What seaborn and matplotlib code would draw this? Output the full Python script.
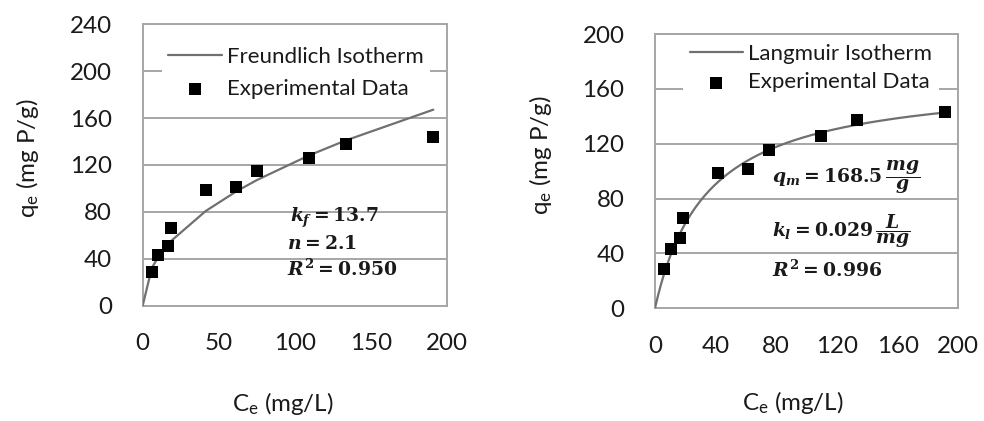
import numpy as np
import pandas as pd
import matplotlib
matplotlib.use("Agg")
import matplotlib.pyplot as plt
import seaborn as sns

# Equilibrium data: concentration (mg/L) and uptake (mg P/g)
ce_values = [6.0, 10.3, 16.5, 18.6, 41.5, 61.5, 75.2, 109.5, 133.5, 191.2]
qe_values = [28.5, 43.5, 51.0, 66.0, 98.5, 101.5, 115.3, 126.0, 137.5, 143.5]

# Fitted isotherm parameters
kf, n_f, r2_f = 13.7, 2.1, 0.950
qm, kl, r2_l = 168.5, 0.029, 0.996

left_xticks = [0, 50, 100, 150, 200]
left_yticks = [0, 40, 80, 120, 160, 200, 240]
right_xticks = [0, 40, 80, 120, 160, 200]
right_yticks = [0, 40, 80, 120, 160, 200]

sns.set_theme(style="white")
plt.rcParams["font.family"] = ["Lato", "DejaVu Sans"]
plt.rcParams["mathtext.fontset"] = "custom"
plt.rcParams["mathtext.it"] = "DejaVu Serif:bold:italic"
plt.rcParams["mathtext.rm"] = "DejaVu Serif:bold"
plt.rcParams["mathtext.bf"] = "DejaVu Serif:bold"
plt.rcParams["mathtext.sf"] = "Lato"

GRID = "#a6a6a6"
CURVE = "#707070"
TXT = "#1a1a1a"

# Freundlich model at the origin and each measured concentration
c_fr = np.array([0.0] + ce_values)
freundlich = kf * c_fr ** (1.0 / n_f)
# Langmuir model on a fine concentration grid up to the last measurement
c_la = np.linspace(0.0, max(ce_values), 200)
langmuir = qm * kl * c_la / (1.0 + kl * c_la)

exp_df = pd.DataFrame({"Ce": ce_values, "qe": qe_values})
fr_df = pd.DataFrame({"Ce": c_fr, "qe": freundlich})
la_df = pd.DataFrame({"Ce": c_la, "qe": langmuir})

fig = plt.figure(figsize=(9.84, 4.21), dpi=100)
ax1 = fig.add_axes([0.1450, 0.2739, 0.3089, 0.6684])
ax2 = fig.add_axes([0.6656, 0.2677, 0.3082, 0.6515])


def style_axes(ax, xticks, yticks, ylim):
    ax.set_xlim(0, 200)
    ax.set_ylim(*ylim)
    ax.set_xticks(xticks)
    ax.set_yticks(yticks)
    ax.yaxis.grid(True, color=GRID, linewidth=1.4)
    ax.xaxis.grid(False)
    ax.set_axisbelow(True)
    for s in ax.spines.values():
        s.set_visible(True)
        s.set_color(GRID)
        s.set_linewidth(1.4)
    ax.tick_params(axis="both", which="major", direction="out", length=7,
                   width=1.4, color=GRID, labelsize=17.4, labelcolor=TXT)
    ax.tick_params(axis="y", pad=15)
    ax.tick_params(axis="x", pad=13)
    ax.set_xlabel(r"$\mathsf{C_e}$ (mg/L)", fontsize=17.4, color=TXT,
                  va="center", ha="center")
    ax.set_ylabel(r"$\mathsf{q_e}$ (mg P/g)", fontsize=17.4, color=TXT,
                  va="center", ha="center")


# Freundlich panel
sns.lineplot(data=fr_df, x="Ce", y="qe", ax=ax1, color=CURVE, linewidth=1.6,
             label="Freundlich Isotherm", zorder=3)
sns.scatterplot(data=exp_df, x="Ce", y="qe", ax=ax1, marker="s", s=66,
                color="black", edgecolor="black", linewidth=0,
                label="Experimental Data", zorder=4)
style_axes(ax1, left_xticks, left_yticks, (0, 240))
ax1.xaxis.set_label_coords(0.46, -0.346)
ax1.yaxis.set_label_coords(-0.379, 0.526)
ax1.text(97, 71.4, rf"$k_f = {kf}$", fontsize=13.5, ha="left", va="baseline", color=TXT)
ax1.text(95, 48.4, rf"$n = {n_f}$", fontsize=13.5, ha="left", va="baseline", color=TXT)
ax1.text(95, 25.3, rf"$R^2 = {r2_f:.3f}$", fontsize=13.5, ha="left", va="baseline", color=TXT)

# Langmuir panel
sns.lineplot(data=la_df, x="Ce", y="qe", ax=ax2, color=CURVE, linewidth=1.6,
             label="Langmuir Isotherm", zorder=3)
sns.scatterplot(data=exp_df, x="Ce", y="qe", ax=ax2, marker="s", s=66,
                color="black", edgecolor="black", linewidth=0,
                label="Experimental Data", zorder=4)
style_axes(ax2, right_xticks, right_yticks, (0, 200))
ax2.xaxis.set_label_coords(0.455, -0.345)
ax2.yaxis.set_label_coords(-0.379, 0.559)
ax2.text(77.3, 91.7, rf"$q_m = {qm}\,\dfrac{{mg}}{{g}}$", fontsize=13.5, ha="left",
         va="baseline", color=TXT)
ax2.text(77.3, 52.2, rf"$k_l = {kl:.3f}\,\dfrac{{L}}{{mg}}$", fontsize=13.5, ha="left",
         va="baseline", color=TXT)
ax2.text(77.3, 22.8, rf"$R^2 = {r2_l:.3f}$", fontsize=13.5, ha="left",
         va="baseline", color=TXT)

for ax, anchor, spacing in ((ax1, (0.063, 0.943), 0.54), (ax2, (0.093, 0.988), 0.38)):
    leg = ax.legend(loc="upper left", bbox_to_anchor=anchor, frameon=True,
                    fontsize=16, handlelength=2.4, handletextpad=0.23,
                    borderpad=0.3, labelspacing=spacing, borderaxespad=0,
                    markerscale=1.0, labelcolor=TXT)
    leg.get_frame().set_facecolor("white")
    leg.get_frame().set_edgecolor("none")
    leg.get_frame().set_alpha(1)
    leg.get_frame().set_boxstyle("square", pad=0)

fig.savefig("out.png", dpi=100, facecolor="white")
